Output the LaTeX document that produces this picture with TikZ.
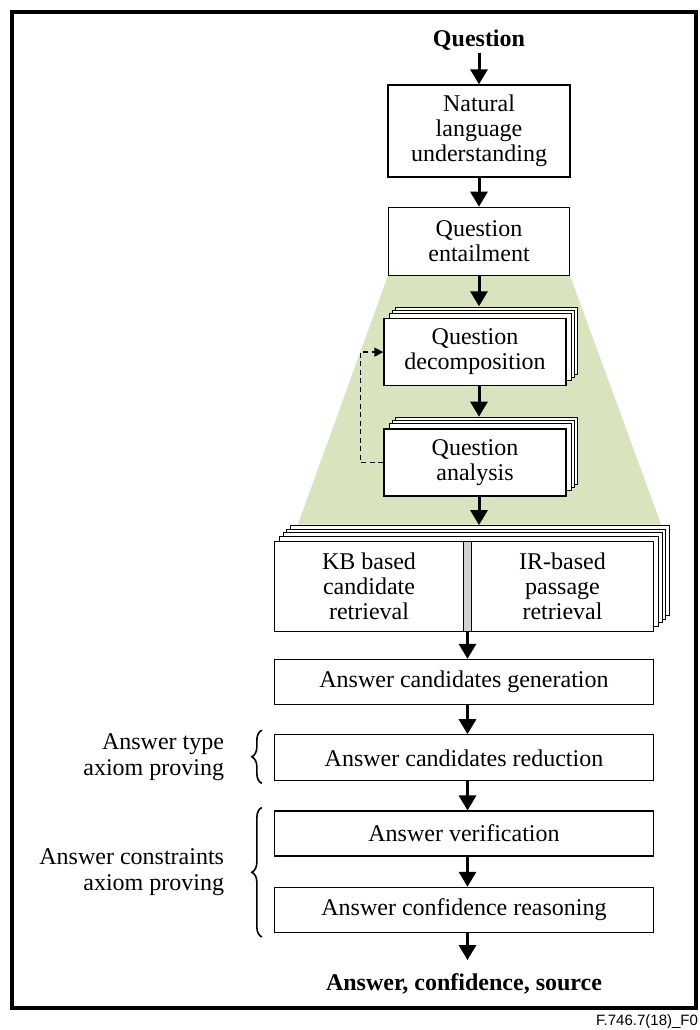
\documentclass[tikz,border=0pt]{standalone}
\usepackage{fontspec}
\setmainfont{Liberation Serif}
\setsansfont{Liberation Sans}
\usetikzlibrary{arrows.meta,positioning,shadows,calc,backgrounds,decorations.pathreplacing}
\definecolor{funnel}{HTML}{D7E4BD}
\tikzset{
  blk/.style={draw, rectangle, fill=white, line width=1.3pt, align=center, inner sep=2pt, font=\fontsize{24}{25}\selectfont},
  stk/.style={blk,
    general shadow={shadow xshift=11.6pt, shadow yshift=11.6pt, fill=white, draw=black, line width=1pt},
    general shadow={shadow xshift=8.3pt, shadow yshift=8.3pt, fill=white, draw=black, line width=1pt},
    general shadow={shadow xshift=5pt, shadow yshift=5pt, fill=white, draw=black, line width=1pt}},
  wstk/.style={draw, rectangle, fill=black!18, line width=1.3pt, inner sep=0pt,
    general shadow={shadow xshift=15.5pt, shadow yshift=15.5pt, fill=white, draw=black, line width=1pt},
    general shadow={shadow xshift=12pt, shadow yshift=12pt, fill=white, draw=black, line width=1pt},
    general shadow={shadow xshift=8.5pt, shadow yshift=8.5pt, fill=white, draw=black, line width=1pt},
    general shadow={shadow xshift=5pt, shadow yshift=5pt, fill=white, draw=black, line width=1pt}},
  hdr/.style={font=\fontsize{24}{25}\selectfont\bfseries, inner sep=0pt, outer sep=3pt},
  lbl/.style={font=\fontsize{24}{26}\selectfont, align=right, inner sep=0pt},
  arr/.style={-{Triangle[length=15pt, width=17pt]}, line width=3pt},
  darr/.style={-{Triangle[length=9pt, width=9pt]}, line width=1.3pt, dash pattern=on 5pt off 3.5pt},
  brc/.style={decorate, decoration={brace, amplitude=10pt}, line width=1.6pt},
}

\begin{document}
\begin{tikzpicture}[x=1pt, y=1pt]
\useasboundingbox (0,0) rectangle (699,-1030);
\draw[line width=3.5pt] (12,-12) rectangle (696,-1008);

\node[hdr] (q) at (479,-40) {Question};
\node[blk, minimum width=182pt, minimum height=92pt] (nlu) at (479,-131) {Natural\\language\\understanding};
\node[blk, below=29pt of nlu, minimum width=181pt, minimum height=68pt] (qe) {Question\\entailment};
\node[stk, below=42pt of qe, xshift=-4pt, minimum width=182pt, minimum height=67pt] (qd) {Question\\decomposition};
\node[stk, below=42pt of qd, minimum width=182pt, minimum height=67pt] (qa) {Question\\analysis};

% retrieval pair
\node[wstk, below=44pt of qa, xshift=-11pt, minimum width=379pt, minimum height=90pt] (ret) {};
\node[blk, anchor=west, minimum width=189pt, minimum height=90pt] (kb) at (ret.west) {KB based\\candidate\\retrieval};
\node[blk, anchor=east, minimum width=182pt, minimum height=90pt] (ir) at (ret.east) {IR-based\\passage\\retrieval};
\coordinate (gap) at ($(kb.south east)!.5!(ir.south west)$);

\node[blk, below=27pt of ret, minimum width=379pt, minimum height=45pt] (acg) {Answer candidates generation};
\node[blk, below=29pt of acg, minimum width=379pt, minimum height=46pt] (acr) {Answer candidates reduction};
\node[blk, below=29pt of acr, minimum width=379pt, minimum height=45pt] (av) {Answer verification};
\node[blk, below=30pt of av, minimum width=379pt, minimum height=45pt] (acf) {Answer confidence reasoning};
\node[hdr, below=38pt of acf] (res) {Answer, confidence, source};

% funnel
\begin{scope}[on background layer]
\fill[funnel] (qe.south west) -- (qe.south east) -- ($(ret.north east)+(7pt,16pt)$)
  -- ($(ret.north west)+(24pt,16pt)$) -- cycle;
\end{scope}

\draw[arr] (q.south -| nlu.north) -- (nlu.north);
\draw[arr] (nlu.south) -- (qe.north);
\draw[arr, shorten >=11.6pt] (qe.south) -- (qe.south |- qd.north);
\draw[arr, shorten >=11.6pt] (qe.south |- qd.south) -- (qe.south |- qa.north);
\draw[arr, shorten >=15.5pt] (qe.south |- qa.south) -- (qe.south |- ret.north);
\draw[darr] (qa.west) -- ++(-23pt,0) |- (qd.west);
\draw[arr] (gap) -- (gap |- acg.north);
\draw[arr] (gap |- acg.south) -- (gap |- acr.north);
\draw[arr] (gap |- acr.south) -- (gap |- av.north);
\draw[arr] (gap |- av.south) -- (gap |- acf.north);
\draw[arr, shorten >=11pt] (gap |- acf.south) -- (gap |- res.north);

% braces
\draw[brc] ($(acr.south west)+(-12pt,-2pt)$) -- ($(acr.north west)+(-12pt,4pt)$)
  node[lbl, midway, left=37pt] (t1) {Answer type\\axiom proving};
\draw[brc] ($(acf.south west)+(-12pt,-4pt)$) -- ($(av.north west)+(-12pt,3pt)$)
  node[lbl, midway, left=37pt] (t2) {Answer constraints\\axiom proving};

\node[font=\sffamily\fontsize{15}{17}\selectfont, anchor=base west, inner sep=0pt] (fig) at (596,-1025) {F.746.7(18)\_F0};
\end{tikzpicture}
\end{document}
